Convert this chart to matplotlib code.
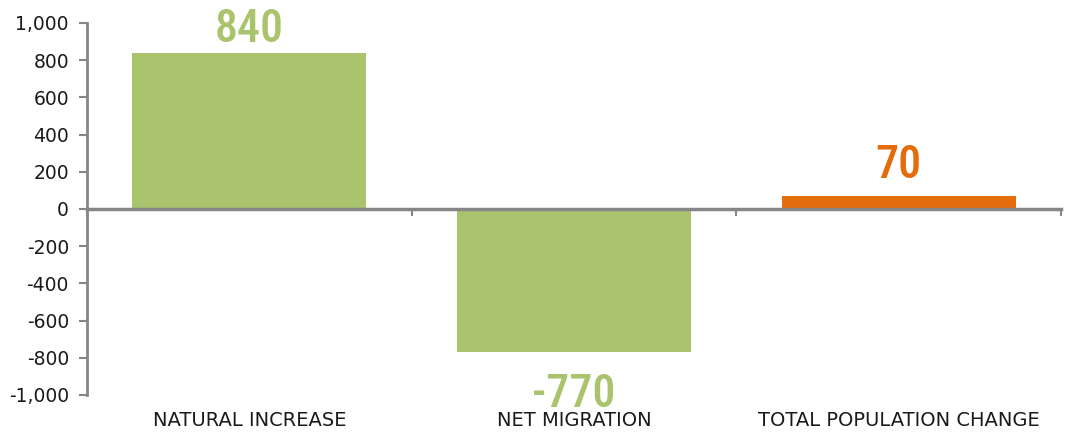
import matplotlib
matplotlib.use("Agg")
import matplotlib.pyplot as plt
from matplotlib.transforms import blended_transform_factory
from matplotlib import font_manager
from matplotlib.font_manager import FontProperties

categories = ["NATURAL INCREASE", "NET MIGRATION", "TOTAL POPULATION CHANGE"]
values = [840, -770, 70]
value_labels = ["840", "-770", "70"]
yticks = [-1000, -800, -600, -400, -200, 0, 200, 400, 600, 800, 1000]

GREEN = "#A9C46C"
ORANGE = "#E46C0A"
GRAY = "#868686"
colors = [GREEN, GREEN, ORANGE]

# find a condensed/narrow font file if available
cands = []
for f in font_manager.fontManager.ttflist:
    fn = f.fname.lower()
    if ("condensed" in fn or "narrow" in fn) and "italic" not in fn and "oblique" not in fn:
        score = 0
        if "roboto" in fn:
            score += 10
        if "semicondensed" in fn or "semi" in fn:
            score -= 5
        if "extracondensed" in fn.replace("_", "").replace("-", ""):
            score += 3
        if "medium" in fn:
            score += 2
        if "bold" in fn:
            score -= 1
        if "light" in fn or "thin" in fn or "black" in fn:
            score -= 4
        cands.append((score, f.fname))
cands.sort(reverse=True)
if cands:
    value_fp = FontProperties(fname=cands[0][1], size=33)
else:
    value_fp = FontProperties(family="DejaVu Sans", stretch="condensed", size=28)

fig = plt.figure(figsize=(10.68, 4.34), dpi=100)
ax = fig.add_axes([87/1068, 1-395/434, (1061-87)/1068, (395-23)/434])

x = list(range(len(categories)))
ax.bar(x, values, width=0.72, color=colors, zorder=2)
ax.set_xlim(-0.5, 2.5)
ax.set_ylim(-1000, 1000)

for s in ["top", "right"]:
    ax.spines[s].set_visible(False)
ax.spines["left"].set_color(GRAY)
ax.spines["left"].set_linewidth(2)
ax.spines["bottom"].set_position(("data", 0))
ax.spines["bottom"].set_color(GRAY)
ax.spines["bottom"].set_linewidth(2.5)
ax.spines["bottom"].set_zorder(3)

ax.set_yticks(yticks)
ax.set_yticklabels([f"{v:,}" for v in yticks])
ax.tick_params(axis="y", length=6, width=1.5, color=GRAY, labelsize=13.5,
               labelcolor="#1a1a1a", pad=7)
ax.set_xticks([-0.5, 0.5, 1.5, 2.5])
ax.set_xticklabels([])
ax.tick_params(axis="x", length=5, width=1.5, color=GRAY, direction="out")

trans = blended_transform_factory(ax.transData, ax.transAxes)
for xi, c in zip(x, categories):
    ax.text(xi, -26/372, c, transform=trans, ha="center", va="center",
            fontsize=14, color="#1a1a1a")

fig_h = fig.get_size_inches()[1] * fig.dpi
label_px = 34  # approx digit height in pixels
for xi, v, lab, col in zip(x, values, value_labels, colors):
    if v >= 0:
        top_px = fig_h - ax.transData.transform((xi, v))[1]  # from top
        off = min(18, top_px - label_px - 8)
        ax.annotate(lab, (xi, v), xytext=(0, off), textcoords="offset pixels",
                    ha="center", va="baseline", color=col,
                    fontproperties=value_fp)
    else:
        ax.annotate(lab, (xi, v), xytext=(0, -21), textcoords="offset pixels",
                    ha="center", va="top", color=col,
                    fontproperties=value_fp)

fig.savefig("out.png", dpi=100)
